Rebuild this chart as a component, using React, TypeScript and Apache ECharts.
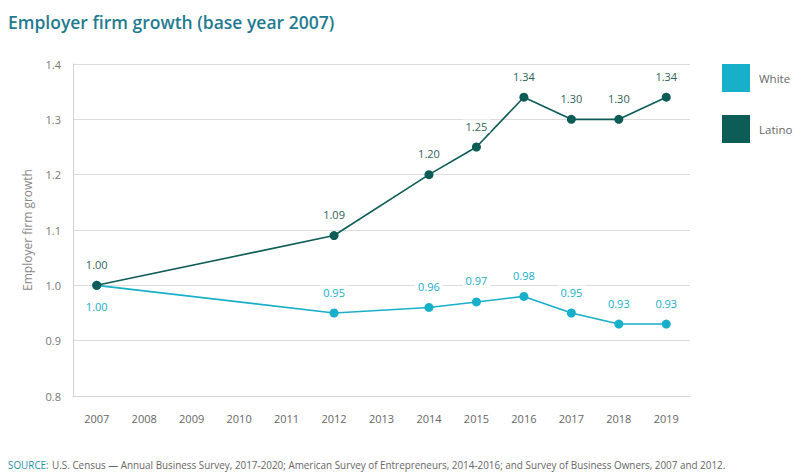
import React, { useEffect, useRef } from "react";
import * as echarts from "echarts";

const years = ["2007", "2008", "2009", "2010", "2011", "2012", "2013", "2014", "2015", "2016", "2017", "2018", "2019"];
const whiteValues: (number | null)[] = [1.0, null, null, null, null, 0.95, null, 0.96, 0.97, 0.98, 0.95, 0.93, 0.93];
const latinoValues: (number | null)[] = [1.0, null, null, null, null, 1.09, null, 1.2, 1.25, 1.34, 1.3, 1.3, 1.34];
const yTicks = [0.8, 0.9, 1.0, 1.1, 1.2, 1.3, 1.4];

const WHITE = "#17afc9";
const LATINO = "#0d5c56";
const FONT = "'Open Sans', 'Noto Sans', sans-serif";

export default function App() {
  const ref = useRef<HTMLDivElement>(null);
  useEffect(() => {
    if (!ref.current) return;
    const chart = echarts.init(ref.current, null, { renderer: "svg" });
    const labelBase = {
      show: true,
      fontSize: 11,
      fontFamily: FONT,
      backgroundColor: "#ffffff",
      padding: [1, 3],
      formatter: (p: any) => (p.value == null ? "" : Number(p.value).toFixed(2)),
    };
    chart.setOption({
      animation: false,
      textStyle: { fontFamily: FONT },
      title: {
        text: "Employer firm growth (base year 2007)",
        left: 3,
        top: 8,
        textStyle: { fontSize: 17.5, fontWeight: 600, color: "#1f7b8f", fontFamily: FONT },
      },
      legend: {
        orient: "vertical",
        left: 717,
        top: 59,
        itemWidth: 28,
        itemHeight: 28,
        itemGap: 23,
        icon: "rect",
        textStyle: { fontSize: 11.5, color: "#666", fontFamily: FONT, padding: [0, 0, 0, 4] },
        data: [
          { name: "White", icon: "rect" },
          { name: "Latino", icon: "rect" },
        ],
      },
      grid: { left: 73, right: 104, top: 64, bottom: 76 },
      xAxis: {
        type: "category",
        data: years,
        boundaryGap: true,
        axisLine: { show: true, lineStyle: { color: "#d4d4d4" } },
        axisTick: { show: false },
        axisLabel: { color: "#666", fontSize: 11, margin: 17, fontFamily: FONT },
        splitLine: { show: false },
      },
      yAxis: {
        type: "value",
        min: 0.8,
        max: 1.4,
        interval: 0.1,
        name: "Employer firm growth",
        nameLocation: "middle",
        nameGap: 40,
        nameRotate: 90,
        nameTextStyle: { color: "#888", fontSize: 12, fontFamily: FONT },
        axisLine: { show: true, lineStyle: { color: "#d4d4d4" } },
        axisTick: { show: false },
        axisLabel: {
          color: "#777",
          fontSize: 11,
          margin: 12,
          fontFamily: FONT,
          formatter: (v: number) => {
            const t = yTicks.find((x) => Math.abs(x - v) < 1e-6);
            return t === undefined ? "" : t.toFixed(1);
          },
        },
        splitLine: { show: true, lineStyle: { color: "#dcdcdc", width: 1 } },
      },
      series: [
        {
          name: "White",
          type: "line",
          data: whiteValues.map((v, i) =>
            i === 0
              ? { value: v, label: { position: "bottom", distance: 10 } }
              : v
          ),
          connectNulls: true,
          symbol: "circle",
          symbolSize: 9,
          itemStyle: { color: WHITE },
          lineStyle: { color: WHITE, width: 1.6 },
          label: { ...labelBase, color: WHITE, position: "top", distance: 10 },
          z: 2,
        },
        {
          name: "Latino",
          type: "line",
          data: latinoValues,
          connectNulls: true,
          symbol: "circle",
          symbolSize: 9,
          itemStyle: { color: LATINO },
          lineStyle: { color: LATINO, width: 1.6 },
          label: { ...labelBase, color: "#2f5f5b", position: "top", distance: 10 },
          z: 3,
        },
      ],
      graphic: [
        {
          type: "text",
          left: 8,
          top: 459,
          style: {
            text: "{a|SOURCE:} {b|U.S. Census — Annual Business Survey, 2017-2020; American Survey of Entrepreneurs, 2014-2016; and Survey of Business Owners, 2007 and 2012.}",
            rich: {
              a: { fill: "#1f8fa8", fontSize: 9.9, fontFamily: FONT },
              b: { fill: "#666", fontSize: 9.9, fontFamily: FONT },
            },
          },
        },
      ],
    });
    return () => chart.dispose();
  }, []);
  return (
    <div
      ref={ref}
      style={{ position: "absolute", left: 0, top: 0, width: 794, height: 472 }}
    />
  );
}
